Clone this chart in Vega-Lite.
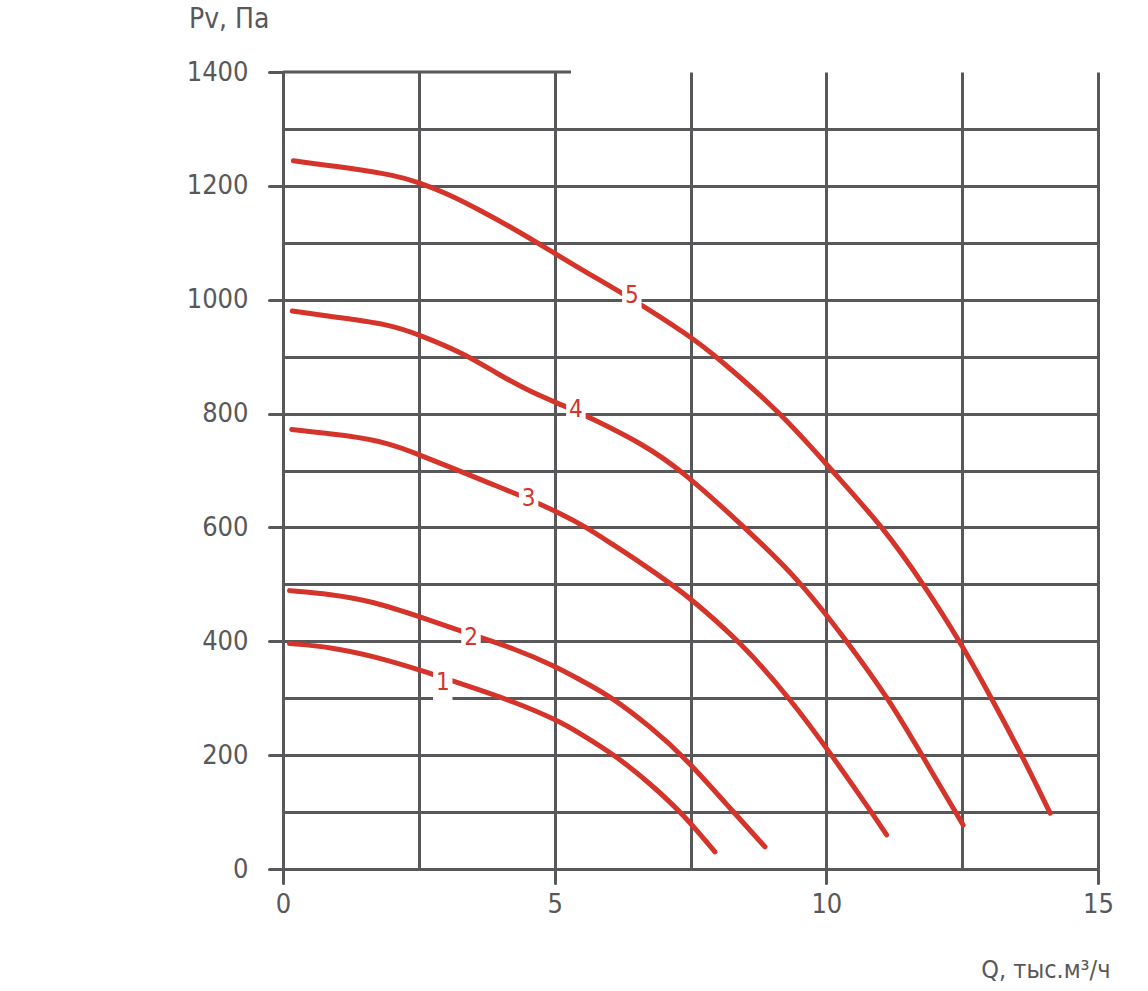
{
  "$schema": "https://vega.github.io/schema/vega-lite/v6.json",
  "width": 815,
  "height": 797,
  "autosize": "none",
  "padding": {"left": 283, "top": 72, "right": 50, "bottom": 122},
  "background": "white",
  "config": {"view": {"stroke": null}},
  "datasets": {
    "curves": [
      {"curve": "1", "x": 0.12, "y": 396}, {"curve": "1", "x": 0.87, "y": 390}, {"curve": "1", "x": 1.66, "y": 374}, {"curve": "1", "x": 2.52, "y": 350}, {"curve": "1", "x": 3.63, "y": 314}, {"curve": "1", "x": 4.24, "y": 294}, {"curve": "1", "x": 5.04, "y": 262}, {"curve": "1", "x": 5.47, "y": 238}, {"curve": "1", "x": 6.11, "y": 200}, {"curve": "1", "x": 6.76, "y": 150}, {"curve": "1", "x": 7.37, "y": 96}, {"curve": "1", "x": 7.95, "y": 30},
      {"curve": "2", "x": 0.12, "y": 489}, {"curve": "2", "x": 0.87, "y": 483}, {"curve": "2", "x": 1.66, "y": 470}, {"curve": "2", "x": 2.52, "y": 443}, {"curve": "2", "x": 3.46, "y": 412}, {"curve": "2", "x": 4.24, "y": 388}, {"curve": "2", "x": 5.04, "y": 355}, {"curve": "2", "x": 5.47, "y": 332}, {"curve": "2", "x": 6.02, "y": 304}, {"curve": "2", "x": 6.76, "y": 250}, {"curve": "2", "x": 7.4, "y": 196}, {"curve": "2", "x": 8.29, "y": 100}, {"curve": "2", "x": 8.87, "y": 39},
      {"curve": "3", "x": 0.16, "y": 772}, {"curve": "3", "x": 1.17, "y": 762}, {"curve": "3", "x": 1.97, "y": 748}, {"curve": "3", "x": 2.52, "y": 727}, {"curve": "3", "x": 3.13, "y": 704}, {"curve": "3", "x": 3.82, "y": 677}, {"curve": "3", "x": 4.52, "y": 650}, {"curve": "3", "x": 5.1, "y": 625}, {"curve": "3", "x": 5.59, "y": 600}, {"curve": "3", "x": 6.02, "y": 573}, {"curve": "3", "x": 6.6, "y": 537}, {"curve": "3", "x": 7.15, "y": 500}, {"curve": "3", "x": 7.49, "y": 476}, {"curve": "3", "x": 8.41, "y": 400}, {"curve": "3", "x": 9.33, "y": 300}, {"curve": "3", "x": 10.1, "y": 200}, {"curve": "3", "x": 10.83, "y": 100}, {"curve": "3", "x": 11.11, "y": 60},
      {"curve": "4", "x": 0.17, "y": 980}, {"curve": "4", "x": 1.17, "y": 967}, {"curve": "4", "x": 1.97, "y": 956}, {"curve": "4", "x": 2.52, "y": 938}, {"curve": "4", "x": 3.32, "y": 906}, {"curve": "4", "x": 3.93, "y": 871}, {"curve": "4", "x": 4.55, "y": 838}, {"curve": "4", "x": 5.22, "y": 812}, {"curve": "4", "x": 5.71, "y": 790}, {"curve": "4", "x": 6.63, "y": 746}, {"curve": "4", "x": 7.34, "y": 700}, {"curve": "4", "x": 8.5, "y": 600}, {"curve": "4", "x": 9.52, "y": 506}, {"curve": "4", "x": 10.38, "y": 400}, {"curve": "4", "x": 11.14, "y": 300}, {"curve": "4", "x": 11.76, "y": 200}, {"curve": "4", "x": 12.52, "y": 77},
      {"curve": "5", "x": 0.19, "y": 1244}, {"curve": "5", "x": 1.17, "y": 1232}, {"curve": "5", "x": 2.09, "y": 1218}, {"curve": "5", "x": 2.5, "y": 1206}, {"curve": "5", "x": 3.01, "y": 1187}, {"curve": "5", "x": 3.63, "y": 1157}, {"curve": "5", "x": 4.24, "y": 1125}, {"curve": "5", "x": 4.7, "y": 1099}, {"curve": "5", "x": 5.47, "y": 1054}, {"curve": "5", "x": 6.42, "y": 1002}, {"curve": "5", "x": 7.49, "y": 936}, {"curve": "5", "x": 7.98, "y": 900}, {"curve": "5", "x": 9.18, "y": 800}, {"curve": "5", "x": 10.1, "y": 700}, {"curve": "5", "x": 11.05, "y": 600}, {"curve": "5", "x": 11.79, "y": 500}, {"curve": "5", "x": 12.46, "y": 400}, {"curve": "5", "x": 13.04, "y": 300}, {"curve": "5", "x": 13.6, "y": 200}, {"curve": "5", "x": 14.12, "y": 98}
    ],
    "labels": [
      {"label": "1", "x": 2.94, "y": 327},
      {"label": "2", "x": 3.46, "y": 406},
      {"label": "3", "x": 4.52, "y": 650},
      {"label": "4", "x": 5.39, "y": 806},
      {"label": "5", "x": 6.42, "y": 1007}
    ],
    "topline": [{"x": 0, "x2": 5.3, "y": 1400}]
  },
  "resolve": {"axis": {"x": "independent", "y": "independent"}},
  "layer": [
    {
      "data": {"name": "curves"},
      "mark": {"type": "line", "color": "#d4342a", "strokeWidth": 5, "strokeCap": "round", "interpolate": "basis"},
      "encoding": {
        "x": {"field": "x", "type": "quantitative", "scale": {"domain": [0, 15], "nice": false, "zero": false},
          "axis": {"orient": "bottom", "values": [0, 2.5, 5, 7.5, 10, 12.5, 15], "grid": true, "gridColor": "#58585a", "gridWidth": 3, "gridOpacity": 1, "ticks": false, "labels": false, "domain": false, "title": null}},
        "y": {"field": "y", "type": "quantitative", "scale": {"domain": [0, 1400], "nice": false, "zero": false},
          "axis": {"orient": "left", "values": [0, 100, 200, 300, 400, 500, 600, 700, 800, 900, 1000, 1100, 1200, 1300], "grid": true, "gridColor": "#58585a", "gridWidth": 3, "gridOpacity": 1, "ticks": false, "labels": false, "domain": false, "title": null}},
        "detail": {"field": "curve", "type": "nominal"}
      }
    },
    {
      "data": {"name": "topline"},
      "mark": {"type": "rule", "color": "#58585a", "strokeWidth": 3},
      "encoding": {
        "x": {"field": "x", "type": "quantitative", "axis": null},
        "x2": {"field": "x2"},
        "y": {"field": "y", "type": "quantitative", "axis": null}
      }
    },
    {
      "data": {"name": "labels"},
      "mark": {"type": "point", "shape": "M-0.54,-1H0.54V1H-0.54Z", "size": 1300, "filled": true, "color": "white", "opacity": 1, "strokeWidth": 0},
      "encoding": {
        "x": {"field": "x", "type": "quantitative",
          "axis": {"orient": "bottom", "values": [0, 5, 10, 15], "format": "d", "grid": false, "domain": false, "ticks": true, "tickSize": 14, "tickWidth": 3, "tickColor": "#58585a", "tickCap": "round",
            "labelFont": "DejaVu Sans Condensed, Liberation Sans Narrow, Roboto", "labelFontSize": 27, "labelColor": "#58585a", "labelPadding": 8, "labelFlush": false,
            "title": "Q, тыс.м³/ч", "titleFont": "DejaVu Sans Condensed, Liberation Sans Narrow, Roboto", "titleFontSize": 25, "titleFontWeight": "normal", "titleColor": "#58585a",
            "titleX": 827, "titleY": 108, "titleAlign": "right", "titleBaseline": "alphabetic", "titleAnchor": null}},
        "y": {"field": "y", "type": "quantitative",
          "axis": {"orient": "left", "values": [0, 200, 400, 600, 800, 1000, 1200, 1400], "format": "d", "grid": false, "domain": false, "ticks": true, "tickSize": 14, "tickWidth": 3, "tickColor": "#58585a", "tickCap": "round",
            "labelFont": "DejaVu Sans Condensed, Liberation Sans Narrow, Roboto", "labelFontSize": 27, "labelColor": "#58585a", "labelPadding": 21, "labelFlush": false,
            "title": "Pv, Па", "titleFont": "DejaVu Sans Condensed, Liberation Sans Narrow, Roboto", "titleFontSize": 28, "titleFontWeight": "normal", "titleColor": "#58585a",
            "titleAngle": 0, "titleX": -14, "titleY": -45, "titleAlign": "right", "titleBaseline": "alphabetic", "titleAnchor": null}}
      }
    },
    {
      "data": {"name": "labels"},
      "mark": {"type": "text", "color": "#d4342a", "font": "DejaVu Sans Condensed, Liberation Sans Narrow, Roboto", "fontSize": 24, "align": "center", "baseline": "middle"},
      "encoding": {
        "x": {"field": "x", "type": "quantitative", "axis": null},
        "y": {"field": "y", "type": "quantitative", "axis": null},
        "text": {"field": "label"}
      }
    }
  ]
}
